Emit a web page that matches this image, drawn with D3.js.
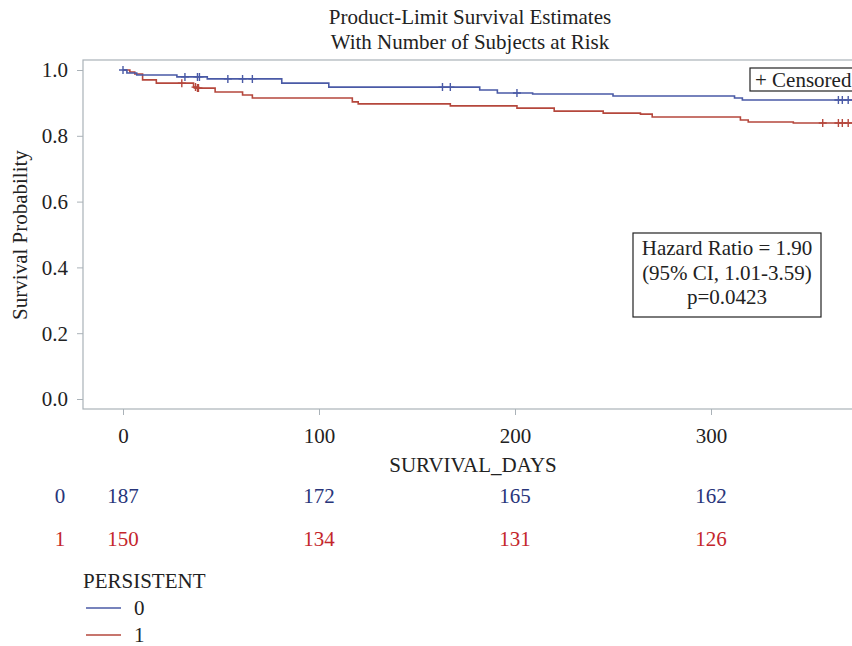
<!DOCTYPE html>
<html>
<head>
<meta charset="utf-8">
<script src="https://cdn.jsdelivr.net/npm/d3@7"></script>
<style>
  body { margin: 0; background: #fff; }
  text { font-family: "Liberation Serif", "DejaVu Serif", serif; fill: #222; }
</style>
</head>
<body>
<div id="chart"></div>
<script>
// Kaplan-Meier step data: [day, survival]
const group0Days = [0, 2, 7, 27.5, 43, 81, 105, 182, 191, 209, 250, 312, 316, 372];
const group0Surv = [1.0, 0.991, 0.985, 0.979, 0.973, 0.960, 0.948, 0.939, 0.930, 0.927, 0.921, 0.915, 0.909, 0.909];
const group0Censored = [0, 31.6, 38, 39, 53.5, 61, 66, 163, 167, 201, 365, 367, 370];

const group1Days = [0, 3.5, 6, 10, 17, 36, 38, 47, 61, 66, 117, 120, 167, 201, 220, 245, 264, 270, 315, 319, 342, 372];
const group1Surv = [1.0, 0.994, 0.988, 0.970, 0.960, 0.948, 0.945, 0.933, 0.924, 0.915, 0.903, 0.897, 0.891, 0.884, 0.875, 0.869, 0.866, 0.857, 0.848, 0.842, 0.839, 0.839];
const group1Censored = [30, 37, 38, 38.5, 357, 365, 367, 370];

const xTicks = [0, 100, 200, 300];
const yTicks = [0, 0.2, 0.4, 0.6, 0.8, 1.0];
const atRisk0 = [187, 172, 165, 162];
const atRisk1 = [150, 134, 131, 126];
const groups = ["0", "1"];

const width = 852, height = 646;
const fs = "21px";
const colors = { "0": "#4a5aa6", "1": "#b5473c" };
const riskColors = { "0": "#28357a", "1": "#c4262c" };

const svg = d3.select("#chart").append("svg")
    .attr("width", width)
    .attr("height", height);

// Scales
const x = d3.scaleLinear().domain([0, 300]).range([123, 711]);
const y = d3.scaleLinear().domain([0, 1]).range([399, 70]);

const frame = { left: 83, top: 60, bottom: 409, right: 880 };

// Titles
svg.append("text").attr("x", 470).attr("y", 24).attr("text-anchor", "middle")
    .style("font-size", fs).text("Product-Limit Survival Estimates");
svg.append("text").attr("x", 470).attr("y", 49).attr("text-anchor", "middle")
    .style("font-size", fs).text("With Number of Subjects at Risk");

// Plot frame
svg.append("rect")
    .attr("x", frame.left).attr("y", frame.top)
    .attr("width", frame.right - frame.left).attr("height", frame.bottom - frame.top)
    .attr("fill", "none").attr("stroke", "#aab2b8").attr("stroke-width", 1.2);

// Y axis
const yAxis = svg.append("g")
    .attr("transform", `translate(${frame.left},0)`)
    .call(d3.axisLeft(y).tickValues(yTicks).tickFormat(d3.format(".1f")).tickSize(6).tickPadding(9));
yAxis.select(".domain").remove();
yAxis.selectAll("line").attr("stroke", "#aab2b8");
yAxis.selectAll("text").style("font-size", fs).style("font-family", "Liberation Serif, serif").attr("fill", "#222").attr("dy", "0.33em");

// X axis
const xAxis = svg.append("g")
    .attr("transform", `translate(0,${frame.bottom})`)
    .call(d3.axisBottom(x).tickValues(xTicks).tickSize(6).tickPadding(13));
xAxis.select(".domain").remove();
xAxis.selectAll("line").attr("stroke", "#aab2b8");
xAxis.selectAll("text").style("font-size", fs).style("font-family", "Liberation Serif, serif").attr("fill", "#222");

// Axis labels
svg.append("text")
    .attr("transform", "translate(27,235) rotate(-90)")
    .attr("text-anchor", "middle").style("font-size", fs).text("Survival Probability");
svg.append("text").attr("x", 473).attr("y", 472).attr("text-anchor", "middle")
    .style("font-size", fs).text("SURVIVAL_DAYS");

// Survival curves
const line = d3.line()
    .x(d => x(d[0]))
    .y(d => y(d[1]))
    .curve(d3.curveStepAfter);

const series = {
    "0": { days: group0Days, surv: group0Surv, cens: group0Censored },
    "1": { days: group1Days, surv: group1Surv, cens: group1Censored }
};

function survAt(s, day) {
    let v = s.surv[0];
    s.days.forEach((d, i) => { if (d <= day) v = s.surv[i]; });
    return v;
}

const plot = svg.append("g");
["1", "0"].forEach(g => {
    const s = series[g];
    const pts = s.days.map((d, i) => [d, s.surv[i]]);
    plot.append("path")
        .datum(pts)
        .attr("fill", "none")
        .attr("stroke", colors[g])
        .attr("stroke-width", 1.6)
        .attr("d", line);

    // Censored marks (+)
    plot.selectAll(null)
        .data(s.cens)
        .enter()
        .append("path")
        .attr("d", d => {
            const cx = x(d), cy = y(survAt(s, d));
            return `M${cx},${cy - 4}V${cy + 4}M${cx - 4},${cy}H${cx + 4}`;
        })
        .attr("stroke", colors[g])
        .attr("stroke-width", 1.4)
        .attr("fill", "none");
});

// Censored legend box
svg.append("rect").attr("x", 750).attr("y", 68).attr("width", 130).attr("height", 23)
    .attr("fill", "#fff").attr("stroke", "#222").attr("stroke-width", 1.2);
svg.append("text").attr("x", 755).attr("y", 87).style("font-size", fs).text("+ Censored");

// Hazard ratio box
svg.append("rect").attr("x", 633).attr("y", 233).attr("width", 188).attr("height", 84)
    .attr("fill", "#fff").attr("stroke", "#222").attr("stroke-width", 1.2);
["Hazard Ratio = 1.90", "(95% CI, 1.01-3.59)", "p=0.0423"].forEach((t, i) => {
    svg.append("text").attr("x", 727).attr("y", 255 + i * 24.5)
        .attr("text-anchor", "middle").style("font-size", fs).text(t);
});

// Number at risk table
[atRisk0, atRisk1].forEach((row, i) => {
    const g = groups[i];
    const ry = 503 + i * 43;
    svg.append("text").attr("x", 60).attr("y", ry).attr("text-anchor", "middle")
        .style("font-size", fs).style("fill", riskColors[g]).text(g);
    svg.selectAll(null)
        .data(row)
        .enter()
        .append("text")
        .attr("x", (d, j) => x(xTicks[j]))
        .attr("y", ry)
        .attr("text-anchor", "middle")
        .style("font-size", fs)
        .style("fill", riskColors[g])
        .text(d => d);
});

// Legend
svg.append("text").attr("x", 83).attr("y", 588).style("font-size", fs).text("PERSISTENT");
groups.forEach((g, i) => {
    const ly = 608 + i * 27;
    svg.append("line").attr("x1", 86).attr("x2", 121).attr("y1", ly).attr("y2", ly)
        .attr("stroke", colors[g]).attr("stroke-width", 1.6);
    svg.append("text").attr("x", 134).attr("y", ly + 7).style("font-size", fs).text(g);
});
</script>
</body>
</html>
